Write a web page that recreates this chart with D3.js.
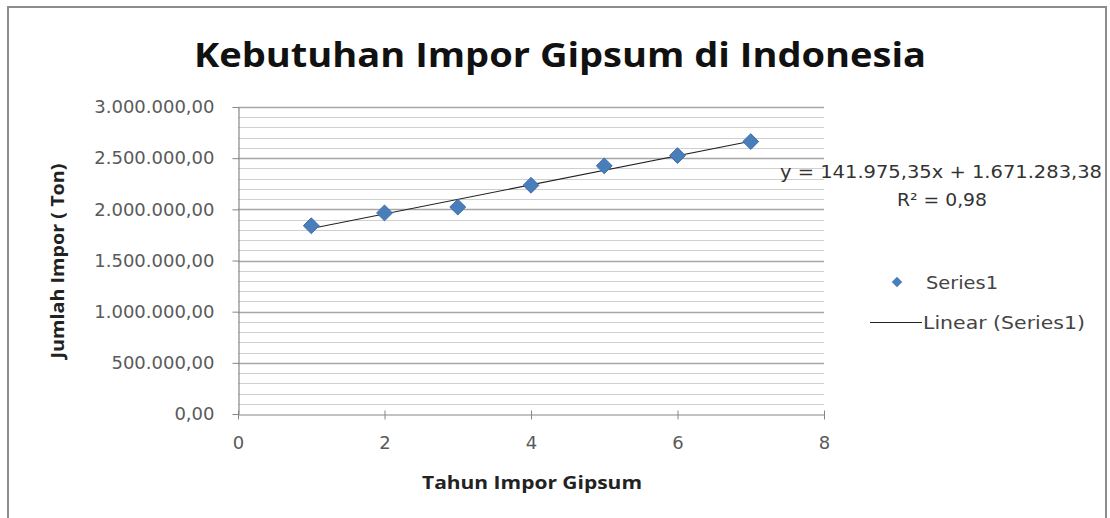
<!DOCTYPE html>
<html lang="id">
<head>
<meta charset="utf-8">
<title>Kebutuhan Impor Gipsum di Indonesia</title>
<script src="https://cdn.jsdelivr.net/npm/d3@7"></script>
<style>
  body { margin: 0; background: #fff; }
  text { font-family: "Open Sans", "DejaVu Sans", sans-serif; }
  text.plain { font-family: "DejaVu Sans", sans-serif; }
</style>
</head>
<body>
<script>
// data
var tahun = [1, 2, 3, 4, 5, 6, 7];
var impor = [1840000, 1965000, 2022000, 2235000, 2425000, 2525000, 2662000];
var yTicks = [0, 500000, 1000000, 1500000, 2000000, 2500000, 3000000];
var xTicks = [0, 2, 4, 6, 8];
var slope = 141975.35, intercept = 1671283.38;
var eqText = "y = 141.975,35x + 1.671.283,38";
var r2Text = "R\u00b2 = 0,98";

var w = 1110, h = 518;
var plotL = 238, plotR = 824, plotT = 107, plotB = 414;

var idLocale = d3.formatLocale({decimal: ",", thousands: ".", grouping: [3], currency: ["Rp", ""]});
var fmt = idLocale.format(",.2f");

var svg = d3.select("body").append("svg").attr("width", w).attr("height", h);

// the source picture is stretched sideways, so texts get a fixed width
function stretch(sel, len) {
  return sel.attr("textLength", len).attr("lengthAdjust", "spacingAndGlyphs");
}

// outer frame
svg.append("rect").attr("x", 8).attr("y", 7).attr("width", 1098).attr("height", 520)
  .attr("fill", "#fff").attr("stroke", "#8c8c8c").attr("stroke-width", 2);

var x = d3.scaleLinear().domain([0, 8]).range([plotL, plotR]);
var y = d3.scaleLinear().domain([0, 3000000]).range([plotB, plotT]);

// gridlines (minor every 100.000, major every 500.000)
var grid = d3.range(100000, 3000001, 100000);
svg.selectAll(".grid").data(grid).enter().append("line")
  .attr("class", "grid")
  .attr("x1", plotL).attr("x2", plotR)
  .attr("y1", function(d) { return Math.round(y(d)) + 0.5; })
  .attr("y2", function(d) { return Math.round(y(d)) + 0.5; })
  .attr("stroke", function(d) { return d % 500000 == 0 ? "#a6a6a6" : "#cfcfcf"; })
  .attr("stroke-width", function(d) { return d % 500000 == 0 ? 1.5 : 1.2; });

// y axis
var yAxis = svg.append("g").attr("transform", "translate(" + (plotL + 0.5) + ",0)")
  .call(d3.axisLeft(y).tickValues(yTicks).tickFormat(fmt).tickSize(6).tickSizeOuter(0).tickPadding(18));
// x axis
var xAxis = svg.append("g").attr("transform", "translate(0," + (plotB + 0.5) + ")")
  .call(d3.axisBottom(x).tickValues(xTicks).tickSize(5).tickSizeOuter(0).tickPadding(17));

[yAxis, xAxis].forEach(function(g) {
  g.select(".domain").attr("stroke", "#868686").attr("stroke-width", 1.2);
  g.selectAll(".tick line").attr("stroke", "#868686");
  g.selectAll(".tick text").attr("class", "plain")
    .attr("font-size", "18px").attr("fill", "#5a5a5a");
});
xAxis.selectAll(".tick line").attr("y1", -4);

// trend line
var trend = [1, 7].map(function(t) { return [t, slope * t + intercept]; });
svg.append("path")
  .attr("d", d3.line().x(function(d) { return x(d[0]); }).y(function(d) { return y(d[1]); })(trend))
  .attr("stroke", "#222").attr("stroke-width", 1.1).attr("fill", "none");

// markers
var diamond = d3.symbol().type(d3.symbolDiamond2).size(160);
svg.selectAll(".pt").data(tahun).enter().append("path")
  .attr("class", "pt")
  .attr("transform", function(d, i) { return "translate(" + x(d) + "," + y(impor[i]) + ")"; })
  .attr("d", diamond)
  .attr("fill", "#4a7ebb").attr("stroke", "#3d6ea8").attr("stroke-width", 1);

// title
stretch(svg.append("text").attr("x", 560).attr("y", 67).attr("text-anchor", "middle")
  .attr("font-size", "34px").attr("font-weight", "bold").attr("fill", "#111")
  .text("Kebutuhan Impor Gipsum di Indonesia"), 732);

// axis titles
stretch(svg.append("text").attr("x", 532).attr("y", 489).attr("text-anchor", "middle")
  .attr("font-size", "18px").attr("font-weight", "bold").attr("fill", "#222")
  .text("Tahun Impor Gipsum"), 220);
stretch(svg.append("text").attr("transform", "translate(64,261) rotate(-90)").attr("text-anchor", "middle")
  .attr("font-size", "17px").attr("font-weight", "bold").attr("fill", "#222")
  .text("Jumlah Impor ( Ton)"), 195);

// equation
stretch(svg.append("text").attr("class", "plain").attr("x", 941).attr("y", 178).attr("text-anchor", "middle")
  .attr("font-size", "17px").attr("fill", "#333").text(eqText), 322);
stretch(svg.append("text").attr("class", "plain").attr("x", 942).attr("y", 206).attr("text-anchor", "middle")
  .attr("font-size", "17px").attr("fill", "#333").text(r2Text), 90);

// legend
svg.append("path").attr("transform", "translate(897,282)")
  .attr("d", d3.symbol().type(d3.symbolDiamond2).size(70))
  .attr("fill", "#4a7ebb");
stretch(svg.append("text").attr("class", "plain").attr("x", 926).attr("y", 289).attr("font-size", "17px").attr("fill", "#444")
  .text("Series1"), 72);
svg.append("line").attr("x1", 870).attr("x2", 922).attr("y1", 322.5).attr("y2", 322.5)
  .attr("stroke", "#222").attr("stroke-width", 1.1);
stretch(svg.append("text").attr("class", "plain").attr("x", 923).attr("y", 329).attr("font-size", "17px").attr("fill", "#444")
  .text("Linear (Series1)"), 162);
</script>
</body>
</html>
